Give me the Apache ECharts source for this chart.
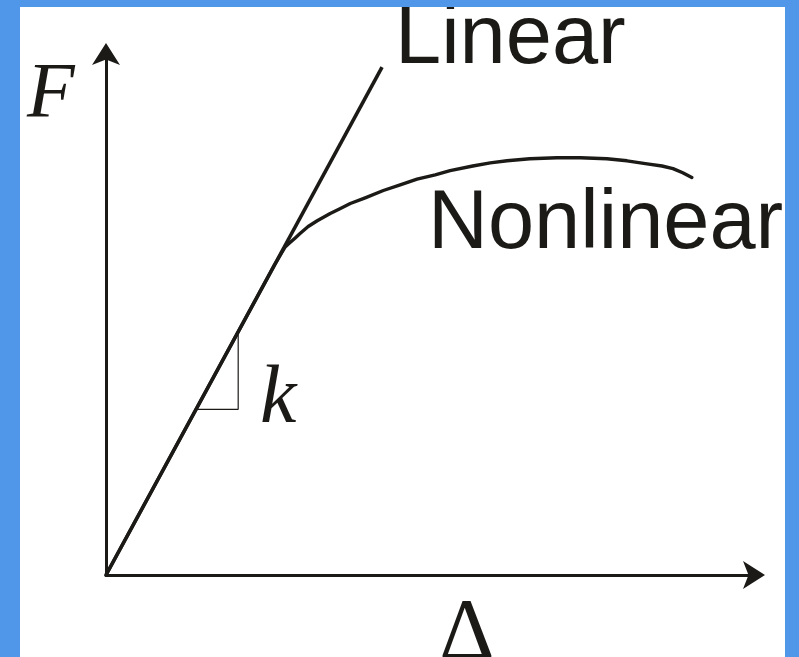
<!DOCTYPE html>
<html>
<head>
<meta charset="utf-8">
<script src="https://cdn.jsdelivr.net/npm/echarts@6/dist/echarts.min.js"></script>
<style>
  html, body { margin: 0; padding: 0; width: 799px; height: 657px; background: #5097e9; overflow: hidden; }
  #chart { position: absolute; left: 20px; top: 7px; width: 765px; height: 650px; background: #ffffff; }
</style>
</head>
<body>
<div id="chart"></div>
<script>
// Deformation (Δ) vs force (F), arbitrary units
const linearX = [0, 4.26];
const linearY = [0, 9.75];

const nonlinearX = [0, 2.60, 2.76, 2.84, 2.92, 2.99, 3.12, 3.26, 3.46, 3.61, 3.77, 4.00, 4.28, 4.54, 4.80, 5.08, 5.31, 5.66, 5.93, 6.19, 6.54, 6.96, 7.32, 7.73, 8.04, 8.35, 8.58, 8.75, 8.90, 9.04];
const nonlinearY = [0, 5.95, 6.29, 6.38, 6.47, 6.55, 6.69, 6.80, 6.94, 7.03, 7.13, 7.24, 7.38, 7.49, 7.60, 7.68, 7.76, 7.85, 7.91, 7.95, 7.99, 8.01, 8.01, 7.99, 7.95, 7.89, 7.85, 7.80, 7.72, 7.63];

// slope triangle
const slopeX = [1.42, 2.04, 2.04];
const slopeY = [3.18, 3.18, 4.62];

const labels = { y: 'F', x: 'Δ', slope: 'k', linear: 'Linear', nonlinear: 'Nonlinear' };

const ink = '#1c1a17';
const zip = (xs, ys) => xs.map((x, i) => [x, ys[i]]);

const chart = echarts.init(document.getElementById('chart'), null, { renderer: 'canvas' });

const fontF = 'italic 78px "Liberation Serif", "DejaVu Serif", serif';
const fontK = 'italic 82px "Liberation Serif", "DejaVu Serif", serif';
const serif = '86px "Liberation Serif", "DejaVu Serif", serif';
const sans = '83px "Liberation Sans", Arial, sans-serif';

const axisLine = {
  show: true, onZero: false, symbol: ['none', 'arrow'], symbolSize: [21, 22], symbolOffset: [0, 11],
  lineStyle: { color: ink, width: 3 }
};

chart.setOption({
  animation: false,
  backgroundColor: '#ffffff',
  grid: { left: 86, right: 31, top: 47, bottom: 82 },
  xAxis: {
    type: 'value', min: 0, max: 10, axisLine: axisLine,
    axisTick: { show: false }, axisLabel: { show: false }, splitLine: { show: false }
  },
  yAxis: {
    type: 'value', min: 0, max: 10, axisLine: axisLine,
    axisTick: { show: false }, axisLabel: { show: false }, splitLine: { show: false }
  },
  series: [
    {
      type: 'line', data: zip(linearX, linearY), showSymbol: false, clip: false,
      lineStyle: { color: ink, width: 3.6 }
    },
    {
      type: 'line', data: zip(nonlinearX, nonlinearY), showSymbol: false, clip: false,
      smooth: false,
      lineStyle: { color: ink, width: 3.4, join: 'round', cap: 'round' }
    },
    {
      type: 'line', data: zip(slopeX, slopeY), showSymbol: false, clip: false,
      lineStyle: { color: ink, width: 1.2 }
    }
  ],
  graphic: [
    { type: 'text', x: 7, y: 88, style: { text: labels.y, font: fontF, fill: ink, align: 'left', verticalAlign: 'middle' } },
    { type: 'text', x: 240, y: 393, style: { text: labels.slope, font: fontK, fill: ink, align: 'left', verticalAlign: 'middle' } },
    { type: 'text', x: 447, y: 628, style: { text: labels.x, font: serif, fill: ink, align: 'center', verticalAlign: 'middle' } },
    { type: 'text', x: 375, y: 33, style: { text: labels.linear, font: sans, fill: ink, align: 'left', verticalAlign: 'middle' } },
    { type: 'text', x: 408, y: 218, style: { text: labels.nonlinear, font: sans, fill: ink, align: 'left', verticalAlign: 'middle' } }
  ]
});
</script>
</body>
</html>
